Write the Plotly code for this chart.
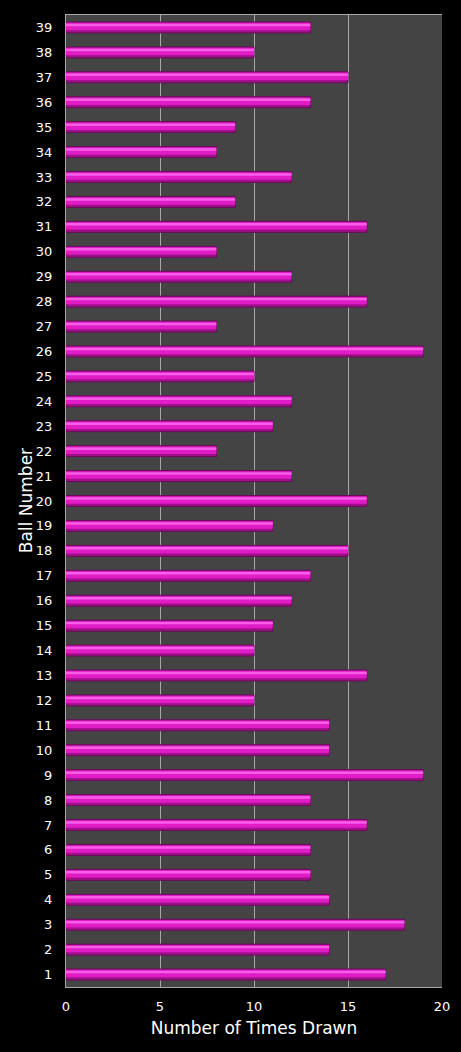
import plotly.graph_objects as go

# Ball numbers and how often each was drawn
balls = list(range(1, 40))
times_drawn = [17, 14, 18, 14, 13, 13, 16, 13, 19, 14,
               14, 10, 16, 10, 11, 12, 13, 15, 11, 16,
               12, 8, 11, 12, 10, 19, 8, 16, 12, 8,
               16, 9, 12, 8, 9, 13, 15, 10, 13]
x_ticks = [0, 5, 10, 15, 20]

fig = go.Figure()

# bar body (darker underside), then main colour, then a light strip for the bevel look
layers = [
    dict(width=0.44, offset=-0.22, color='#a0108a', line=dict(color='#6a0a5c', width=1)),
    dict(width=0.30, offset=-0.11, color='#e01cc6', line=dict(width=0)),
    dict(width=0.10, offset=0.05, color='#f65ee8', line=dict(width=0)),
]
for i, l in enumerate(layers):
    fig.add_trace(go.Bar(
        x=times_drawn, y=balls, orientation='h',
        width=l['width'], offset=l['offset'],
        marker=dict(color=l['color'], line=l['line']),
        hoverinfo='x+y' if i == 0 else 'skip', showlegend=False,
    ))

fig.update_layout(
    width=461, height=1052,
    barmode='overlay',
    paper_bgcolor='black',
    plot_bgcolor='#444444',
    margin=dict(l=66, r=19, t=15, b=65),
    font=dict(family='DejaVu Sans', color='white', size=13),
    xaxis=dict(
        range=[0, 20], tickvals=x_ticks,
        showgrid=True, gridcolor='#a8a8a8', gridwidth=1,
        zeroline=False, showline=True, linecolor='#a8a8a8', mirror=True,
        ticks='outside', ticklen=7, tickcolor='rgba(0,0,0,0)',
        tickfont=dict(size=13),
        title=dict(text='Number of Times Drawn', font=dict(size=17), standoff=9),
    ),
    yaxis=dict(
        range=[0.5, 39.5], tickvals=balls, ticktext=[str(b) for b in balls],
        showgrid=False, zeroline=False, showline=True, linecolor='#a8a8a8',
        ticks='outside', ticklen=10, tickcolor='rgba(0,0,0,0)',
        tickfont=dict(size=13),
    ),
    # y title as an annotation so it sits where the original has it
    annotations=[dict(
        text='Ball Number', textangle=-90, showarrow=False,
        xref='paper', yref='paper', x=-0.106, y=0.5,
        xanchor='center', yanchor='middle', font=dict(size=17),
    )],
)

fig.write_html('out.html', config={'displayModeBar': False},
               post_script="document.body.style.margin='0';document.body.style.background='black';")
